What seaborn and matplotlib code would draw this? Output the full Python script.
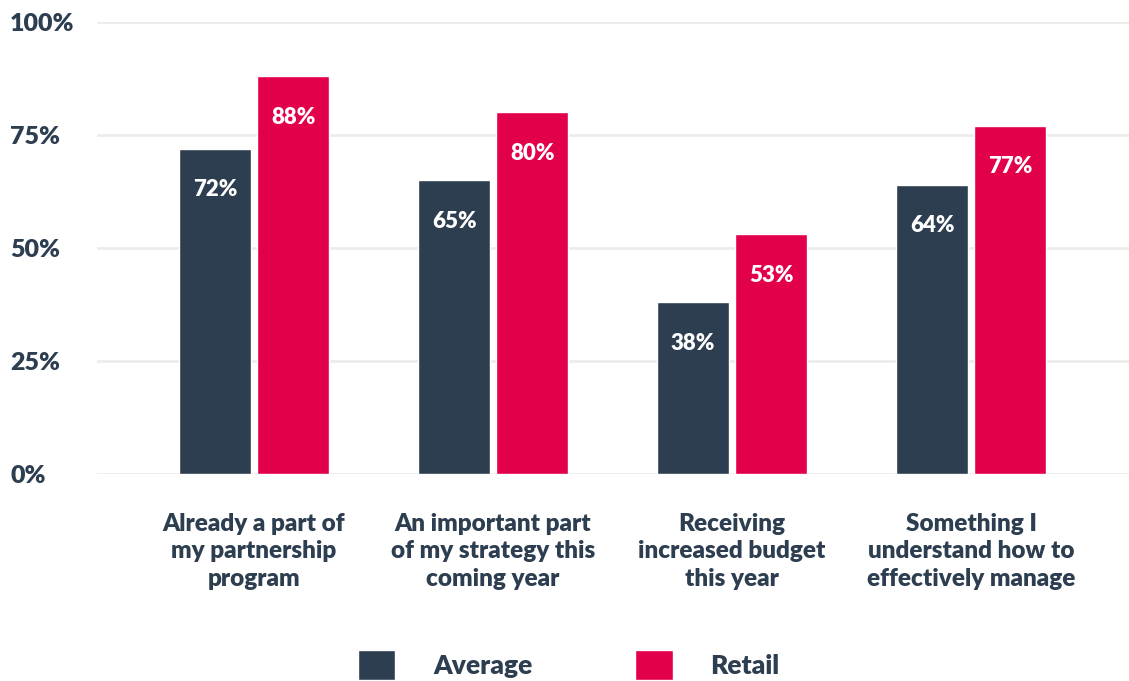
import matplotlib
matplotlib.use("Agg")
import matplotlib.pyplot as plt
import seaborn as sns
import pandas as pd

categories = [
    "Already a part of\nmy partnership\nprogram",
    "An important part\nof my strategy this\ncoming year",
    "Receiving\nincreased budget\nthis year",
    "Something I\nunderstand how to\neffectively manage",
]
series_names = ["Average", "Retail"]
average_values = [72, 65, 38, 64]
retail_values = [88, 80, 53, 77]
y_ticks = [0, 25, 50, 75, 100]
y_tick_labels = ["0%", "25%", "50%", "75%", "100%"]

DARK = "#2d3e50"
RED = "#e3004b"
GRID = "#ececec"
WEIGHT = "heavy"

df = pd.DataFrame({
    "category": categories * 2,
    "series": [series_names[0]] * 4 + [series_names[1]] * 4,
    "value": average_values + retail_values,
})

sns.set_theme(style="white")
plt.rcParams["font.family"] = ["Lato", "DejaVu Sans"]
plt.rcParams["font.weight"] = WEIGHT

W, H = 1129, 681
fig = plt.figure(figsize=(W / 100, H / 100), dpi=100)
ax = fig.add_axes([97 / W, 1 - 474 / H, 1 - 97 / W, (474 - 22) / H])

sns.barplot(
    data=df, x="category", y="value", hue="series",
    palette=[DARK, RED], width=0.653, gap=0.077,
    saturation=1, ax=ax, legend=True,
)

ax.set_xlim(-0.657, 3.66)
ax.set_ylim(0, 100)
ax.set_xlabel("")
ax.set_ylabel("")
for s in ax.spines.values():
    s.set_visible(False)

ax.set_yticks(y_ticks)
ax.set_yticklabels(y_tick_labels)
ax.yaxis.grid(True, color=GRID, linewidth=2)
ax.set_axisbelow(True)
ax.tick_params(axis="y", length=0, pad=62.6, labelsize=18, labelcolor=DARK)
for lbl in ax.get_yticklabels():
    lbl.set_horizontalalignment("left")
    lbl.set_fontweight(WEIGHT)

ax.tick_params(axis="x", length=0, pad=28, labelsize=17.5, labelcolor=DARK)
for lbl in ax.get_xticklabels():
    lbl.set_fontweight(WEIGHT)
    lbl.set_linespacing(1.3)

for container in ax.containers:
    ax.bar_label(
        container, labels=[f"{v:.0f}%" for v in container.datavalues],
        padding=-37, color="white", fontsize=16, fontweight=WEIGHT,
    )

handles, labels = ax.get_legend_handles_labels()
ax.legend_.remove()
fig.legend(
    handles, labels, loc="center", bbox_to_anchor=(0.5036, 1 - 665 / H),
    ncol=2, frameon=False, handlelength=1.42, handleheight=1.42,
    handletextpad=1.42, columnspacing=3.9, labelcolor=DARK,
    prop={"weight": WEIGHT, "size": 19},
)

fig.savefig("out.png", dpi=100)
